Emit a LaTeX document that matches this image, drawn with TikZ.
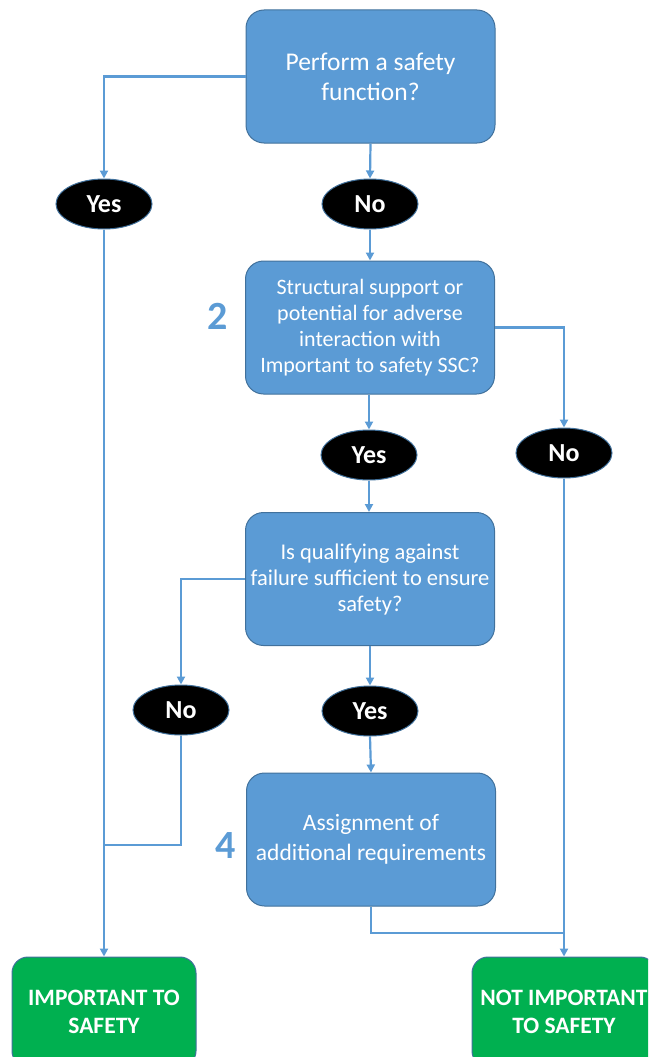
\documentclass[tikz,border=0pt]{standalone}
\usepackage{fontspec}
\setmainfont{Carlito}
\usetikzlibrary{arrows.meta,shapes.geometric}
\definecolor{boxblue}{HTML}{5B9BD5}
\definecolor{boxedge}{HTML}{41719C}
\definecolor{okgreen}{HTML}{00B050}
\tikzset{
  qbox/.style={draw=boxedge, line width=1pt, fill=boxblue, rounded corners=18pt,
    minimum width=249pt, minimum height=133pt, text=white, align=center, inner sep=0pt},
  ans/.style={ellipse, draw=boxedge, line width=1pt, fill=black, minimum width=96pt,
    minimum height=50pt, text=white, inner sep=0pt, font=\fontsize{26}{30}\selectfont\bfseries},
  endbox/.style={draw=boxedge, line width=1pt, fill=okgreen, rounded corners=16pt,
    minimum width=184pt, minimum height=110pt, text=white, align=center, inner sep=0pt,
    font=\fontsize{23.5}{28}\selectfont\bfseries},
  numlbl/.style={text=boxblue, font=\fontsize{40}{44}\selectfont\bfseries, inner sep=0pt},
  conn/.style={draw=boxblue, line width=2.2pt},
  arr/.style={conn, -{Triangle[length=8pt,width=8pt]}}
}
\begin{document}
\begin{tikzpicture}[x=1pt,y=-1pt]
\useasboundingbox (0,0) rectangle (648,1057);
\clip (0,0) rectangle (648,1057);
\node[qbox, font=\fontsize{25.5}{30}\selectfont] (b1) at (370.5,76.5) {Perform a safety\\function?};
\node[ans] (yes1) at (104,204) {Yes};
\node[ans] (no1) at (370,204) {No};
\node[qbox, font=\fontsize{22}{26}\selectfont] (b2) at (370,327.5) {Structural support or\\potential for adverse\\interaction with\\Important to safety SSC?};
\node[numlbl] (n2) at (218,316) {2};
\node[ans] (yes2) at (369,455) {Yes};
\node[ans] (no2) at (564,453) {No};
\node[qbox, font=\fontsize{22.5}{26}\selectfont] (b3) at (370,579) {Is qualifying against\\failure sufficient to ensure\\safety?};
\node[ans] (no3) at (181,710) {No};
\node[ans] (yes3) at (370,711) {Yes};
\node[qbox, font=\fontsize{23.5}{30}\selectfont] (b4) at (371,839.5) {Assignment of\\additional requirements};
\node[numlbl] (n4) at (226,846) {4};
\node[endbox] (g1) at (104,1012) {IMPORTANT TO\\SAFETY};
\node[endbox] (g2) at (564,1012) {NOT IMPORTANT\\TO SAFETY};
\coordinate (j1) at (104,845);
\coordinate (j2) at (564,933);
% connectors
\draw[arr] (b1.west) -| (yes1.north);
\draw[arr] (b1.south) -- (no1.north);
\draw[arr] (no1.south) -- (b2.north);
\draw[arr] (b2.east) -| (no2.north);
\draw[arr] (b2.south -| yes2.north) -- (yes2.north);
\draw[arr] (yes2.south) -- (yes2.south |- b3.north);
\draw[arr] (b3.west) -| (no3.north);
\draw[arr] (b3.south) -- (yes3.north);
\draw[arr] (yes3.south) -- (b4.north);
\draw[arr] (yes1.south) -- (g1.north);
\draw[conn] (no3.south) |- (j1);
\draw[arr] (no2.south) -- (g2.north);
\draw[conn] (b4.south) |- (j2);
\end{tikzpicture}
\end{document}
